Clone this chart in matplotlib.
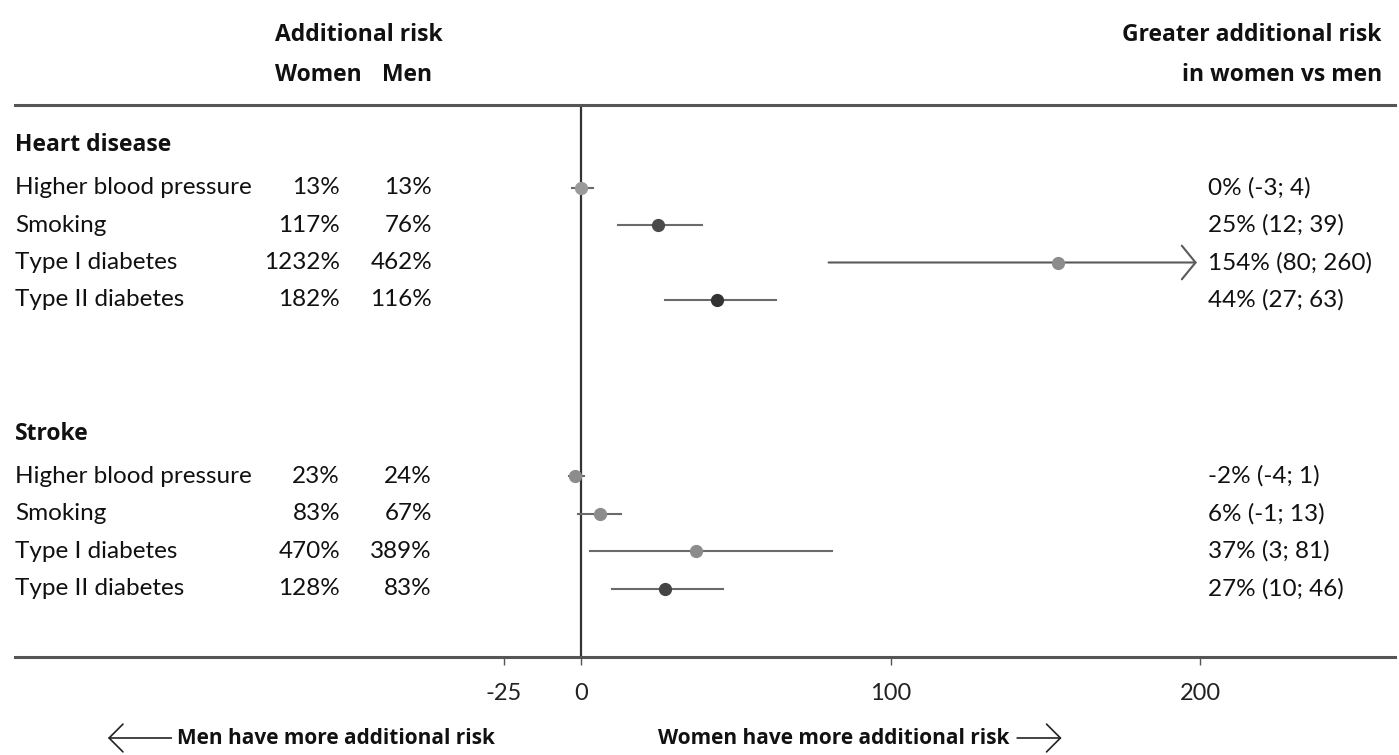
import numpy as np
import matplotlib
matplotlib.use("Agg")
import matplotlib.pyplot as plt
from matplotlib.patches import FancyArrowPatch

plt.rcParams['font.family'] = ['Lato', 'DejaVu Sans']
plt.rcParams['axes.unicode_minus'] = False

factors = ['Higher blood pressure', 'Smoking', 'Type I diabetes', 'Type II diabetes']

heart_women = [13, 117, 1232, 182]
heart_men = [13, 76, 462, 116]
heart_est = [0, 25, 154, 44]
heart_lo = [-3, 12, 80, 27]
heart_hi = [4, 39, 260, 63]

stroke_women = [23, 83, 470, 128]
stroke_men = [24, 67, 389, 83]
stroke_est = [-2, 6, 37, 27]
stroke_lo = [-4, -1, 3, 10]
stroke_hi = [1, 13, 81, 46]

xticks = [-25, 0, 100, 200]

# marker shade per row (as in the scanned original)
heart_colors = ['#9a9a9a', '#4a4a4a', '#8c8c8c', '#333333']
stroke_colors = ['#8c8c8c', '#8c8c8c', '#8c8c8c', '#444444']

W, H = 1399, 755
fig = plt.figure(figsize=(W / 100, H / 100), dpi=100)
ax = fig.add_axes([15 / W, 1 - 657 / H, 1380 / W, (657 - 105) / H])

x_left = (15 - 581) / 3.095
x_right = (1395 - 581) / 3.095
x_cap = 199
ax.set_xlim(x_left, x_right)
ax.set_ylim(14.72, 0)

bold = dict(family=['Open Sans', 'DejaVu Sans'], fontweight='bold', fontsize=16.5,
            color='#111111', va='center')
txt = dict(fontsize=17.5, color='#111111', va='center')
tr = ax.get_yaxis_transform()


def axfrac(px):
    return (px - 15) / 1380


def draw_group(title, y0, women, men, est, lo, hi, colors):
    ax.text(axfrac(15), y0 - 1.13, title, transform=tr, ha='left', **bold)
    for i, f in enumerate(factors):
        y = y0 + i
        ax.text(axfrac(15), y, f, transform=tr, ha='left', **txt)
        ax.text(axfrac(340), y, f'{women[i]}%', transform=tr, ha='right', **txt)
        ax.text(axfrac(432), y, f'{men[i]}%', transform=tr, ha='right', **txt)
        if hi[i] > x_cap:
            ax.annotate('', xy=(x_cap, y), xytext=(lo[i], y),
                        arrowprops=dict(arrowstyle='->,head_length=0.45,head_width=0.55',
                                        lw=1.5, color='#5a5a5a', mutation_scale=22,
                                        shrinkA=0, shrinkB=0))
        else:
            ax.plot([lo[i], hi[i]], [y, y], color='#6a6a6a', lw=1.5, zorder=2)
        ax.plot(est[i], y, 'o', color=colors[i], ms=8.5, zorder=3)
        ax.text(202.5, y, f'{est[i]}% ({lo[i]}; {hi[i]})', ha='left', **txt)


draw_group('Heart disease', 2.2, heart_women, heart_men, heart_est, heart_lo, heart_hi, heart_colors)
draw_group('Stroke', 9.9, stroke_women, stroke_men, stroke_est, stroke_lo, stroke_hi, stroke_colors)

ax.axvline(0, color='#333333', lw=1.6, zorder=1)

for s in ['left', 'right']:
    ax.spines[s].set_visible(False)
for s in ['top', 'bottom']:
    ax.spines[s].set_linewidth(2.2)
    ax.spines[s].set_color('#555555')

ax.set_yticks([])
ax.set_xticks(xticks)
ax.set_xticklabels([str(t) for t in xticks])
ax.tick_params(axis='x', direction='out', length=6, width=1, color='#555555',
               labelsize=17, labelcolor='#222222', pad=13)

# column headers
fig.text(359 / W, 1 - 35 / H, 'Additional risk', ha='center', **bold)
fig.text(318 / W, 1 - 75 / H, 'Women', ha='center', **bold)
fig.text(407 / W, 1 - 75 / H, 'Men', ha='center', **bold)
fig.text(1382 / W, 1 - 35 / H, 'Greater additional risk', ha='right', **bold)
fig.text(1382 / W, 1 - 75 / H, 'in women vs men', ha='right', **bold)

# direction notes below the axis
yb = 1 - 738 / H
note = dict(bold, fontsize=15)
t1 = fig.text(495 / W, yb, 'Men have more additional risk', ha='right', **note)
t2 = fig.text(658 / W, yb, 'Women have more additional risk', ha='left', **note)
fig.canvas.draw()
r = fig.canvas.get_renderer()
bb1 = t1.get_window_extent(r)
bb2 = t2.get_window_extent(r)
fig.patches.append(FancyArrowPatch(
    ((bb1.x0 - 3) / W, yb), ((bb1.x0 - 72) / W, yb), transform=fig.transFigure,
    arrowstyle='->,head_length=0.5,head_width=0.5', mutation_scale=20, lw=1.2, color='#222222'))
fig.patches.append(FancyArrowPatch(
    ((bb2.x1 + 5) / W, yb), ((bb2.x1 + 55) / W, yb), transform=fig.transFigure,
    arrowstyle='->,head_length=0.5,head_width=0.5', mutation_scale=20, lw=1.2, color='#222222'))

fig.savefig('out.png', dpi=100, facecolor='white')
